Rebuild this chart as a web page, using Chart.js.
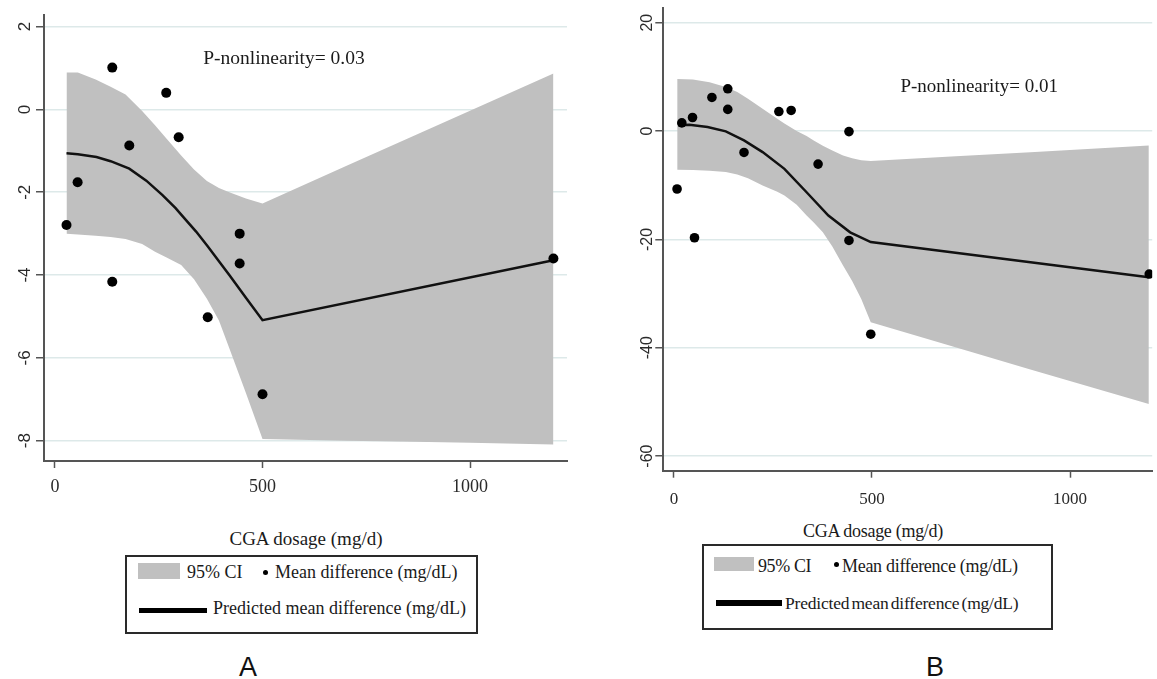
<!DOCTYPE html>
<html>
<head>
<meta charset="utf-8">
<script src="https://cdn.jsdelivr.net/npm/chart.js@4.4.1/dist/chart.umd.min.js"></script>
<style>
html,body{margin:0;padding:0;background:#fff;}
body{width:1157px;height:679px;position:relative;overflow:hidden;font-family:"Liberation Serif",serif;color:#1a1a1a;}
canvas{position:absolute;}
.t{position:absolute;white-space:nowrap;line-height:1;}
.c{position:absolute;white-space:nowrap;line-height:1;text-align:center;width:300px;}
.box{position:absolute;border:2px solid #2a2a2a;}
.sw{position:absolute;}
.dot{position:absolute;border-radius:50%;background:#000;}
.lab{position:absolute;white-space:nowrap;line-height:1;text-align:center;width:100px;font-family:"Liberation Sans",Arial,sans-serif;font-size:27px;color:#111;}
</style>
</head>
<body>
<canvas id="cA" width="580" height="520" style="left:0;top:0;width:580px;height:520px"></canvas>
<canvas id="cB" width="557" height="520" style="left:600px;top:0;width:557px;height:520px"></canvas>

<div class="c" style="left:156px;top:529px;font-size:19px">CGA dosage (mg/d)</div>
<div class="box" style="left:125px;top:555px;width:349px;height:75px"></div>
<div class="sw" style="left:138px;top:563px;width:42px;height:16px;background:#c0c0c0"></div>
<div class="t" style="left:187px;top:563px;font-size:18px">95% CI</div>
<div class="dot" style="left:262.5px;top:569.5px;width:5px;height:5px"></div>
<div class="t" style="left:275px;top:563px;font-size:18px">Mean difference (mg/dL)</div>
<div class="sw" style="left:139px;top:608px;width:68px;height:4.5px;background:#000"></div>
<div class="t" style="left:213px;top:599px;font-size:18px">Predicted mean difference (mg/dL)</div>

<div class="c" style="left:723px;top:522px;font-size:18px;letter-spacing:-0.3px">CGA dosage (mg/d)</div>
<div class="box" style="left:702px;top:544px;width:347px;height:82px"></div>
<div class="sw" style="left:714px;top:557px;width:40px;height:14px;background:#c0c0c0"></div>
<div class="t" style="left:758px;top:557px;font-size:18px;letter-spacing:-0.4px">95% CI</div>
<div class="dot" style="left:834px;top:561.5px;width:5px;height:5px"></div>
<div class="t" style="left:842px;top:557px;font-size:18px;letter-spacing:-0.3px">Mean difference (mg/dL)</div>
<div class="sw" style="left:716px;top:600px;width:66px;height:6px;background:#000"></div>
<div class="t" style="left:785px;top:595px;font-size:17.5px;letter-spacing:-0.2px;word-spacing:-2px">Predicted mean difference (mg/dL)</div>

<div class="lab" style="left:198px;top:654px">A</div>
<div class="lab" style="left:885px;top:654px">B</div>

<script>
// ---------- Panel A data ----------
const aPointsX = [27.7, 54.5, 138, 138, 179, 268, 298, 368, 445, 445, 500, 1201];
const aPointsY = [-2.79, -1.76, 1.01, -4.16, -0.87, 0.40, -0.67, -5.02, -3.0, -3.72, -6.88, -3.6];
const aFitX = [27.7, 55, 100, 134, 179, 220, 259, 290, 312, 340, 366, 400, 420, 460, 500, 1201];
const aFitY = [-1.06, -1.08, -1.15, -1.25, -1.43, -1.72, -2.07, -2.38, -2.63, -2.95, -3.28, -3.73, -4.0, -4.55, -5.09, -3.64];
const aCiX = [27.7, 55, 98, 134, 170, 210, 241, 270, 304, 335, 366, 395, 420, 460, 500, 700, 900, 1000, 1201];
const aCiUpper = [0.89, 0.89, 0.72, 0.55, 0.36, -0.04, -0.38, -0.72, -1.11, -1.45, -1.73, -1.90, -2.0, -2.15, -2.27, -1.37, -0.48, -0.03, 0.87];
const aCiLower = [-3.0, -3.02, -3.05, -3.08, -3.13, -3.25, -3.44, -3.58, -3.76, -4.1, -4.57, -5.1, -5.77, -6.85, -7.96, -8.0, -8.03, -8.05, -8.09];
const aXTicks = [0, 500, 1000];
const aYTicks = [-8, -6, -4, -2, 0, 2];
const aNote = 'P-nonlinearity= 0.03';

// ---------- Panel B data ----------
const bPointsX = [8, 20, 47, 52, 96, 136, 136, 177, 265, 296, 364, 442, 442, 497, 1200];
const bPointsY = [-10.7, 1.5, 2.5, -19.7, 6.2, 7.8, 4.0, -3.95, 3.6, 3.8, -6.1, -0.1, -20.2, -37.5, -26.4];
const bFitX = [11, 39, 85, 131, 177, 224, 279, 335, 390, 445, 497, 1199];
const bFitY = [1.05, 1.17, 0.74, -0.06, -1.73, -3.88, -6.97, -11.3, -15.6, -18.7, -20.5, -27.0];
const bCiX = [8.3, 48, 90, 131, 160, 187, 224, 261, 279, 310, 335, 353, 376, 400, 427, 450, 473, 497, 700, 900, 1199];
const bCiUpper = [9.6, 9.5, 9.0, 8.14, 7.2, 5.98, 4.1, 2.28, 1.4, 0.0, -0.9, -1.73, -2.7, -3.6, -4.5, -5.0, -5.4, -5.55, -4.7, -3.9, -2.65];
const bCiLower = [-7.15, -7.2, -7.35, -7.58, -8.0, -8.7, -10.05, -11.2, -11.9, -13.6, -15.6, -16.9, -18.7, -21.3, -24.8, -27.7, -31.0, -35.3, -39.7, -44.0, -50.4];
const bXTicks = [0, 500, 1000];
const bYTicks = [-60, -40, -20, 0, 20];
const bNote = 'P-nonlinearity= 0.01';

// ---------- helpers ----------
const zip = (xs, ys) => xs.map((x, i) => ({x: x, y: ys[i]}));

const notePlugin = {
  id: 'note',
  afterDatasetsDraw(chart, args, opts) {
    if (!opts || !opts.text) return;
    const {ctx, scales} = chart;
    ctx.save();
    ctx.font = opts.font;
    ctx.fillStyle = '#1a1a1a';
    ctx.textAlign = 'left';
    ctx.textBaseline = 'alphabetic';
    ctx.fillText(opts.text, scales.x.getPixelForValue(opts.x), scales.y.getPixelForValue(opts.y));
    ctx.restore();
  }
};

function makeChart(id, cfg) {
  const datasets = [
    {type: 'scatter', data: zip(cfg.px, cfg.py), pointRadius: cfg.dotR, pointBackgroundColor: '#000',
     pointBorderWidth: 0, borderWidth: 0, pointHoverRadius: cfg.dotR},
    {type: 'line', data: zip(cfg.fx, cfg.fy), borderColor: '#111', borderWidth: 2.5, pointRadius: 0,
     tension: 0, fill: false},
    {type: 'line', data: zip(cfg.cx, cfg.cu), borderWidth: 0, borderColor: 'rgba(0,0,0,0)', pointRadius: 0,
     tension: 0, fill: false},
    {type: 'line', data: zip(cfg.cx, cfg.cl), borderWidth: 0, borderColor: 'rgba(0,0,0,0)', pointRadius: 0,
     tension: 0, fill: '-1', backgroundColor: '#c0c0c0'}
  ];
  return new Chart(document.getElementById(id), {
    type: 'scatter',
    data: {datasets: datasets},
    plugins: [notePlugin],
    options: {
      responsive: false,
      animation: false,
      devicePixelRatio: 1,
      events: [],
      layout: {padding: cfg.pad},
      plugins: {
        legend: {display: false},
        tooltip: {enabled: false},
        note: {text: cfg.note, x: cfg.noteX, y: cfg.noteY, font: cfg.noteFont}
      },
      scales: {
        x: {
          type: 'linear', position: 'bottom', min: cfg.xmin, max: cfg.xmax,
          afterBuildTicks: s => { s.ticks = cfg.xt.map(v => ({value: v})); },
          afterFit: s => { s.height = cfg.xH; s.paddingLeft = 0; s.paddingRight = 0; },
          ticks: {callback: v => String(v), maxRotation: 0, minRotation: 0, autoSkip: false,
                  padding: cfg.xPad, color: '#2a2a2a',
                  font: {family: 'Liberation Serif', size: cfg.xFont}},
          grid: {drawOnChartArea: false, drawTicks: true, tickLength: 7, tickColor: '#555', tickWidth: 1.5},
          border: {color: '#555', width: 2}
        },
        y: {
          type: 'linear', position: 'left', min: cfg.ymin, max: cfg.ymax,
          afterBuildTicks: s => { s.ticks = cfg.yt.map(v => ({value: v})); },
          afterFit: s => { s.width = cfg.yW; s.paddingTop = 0; s.paddingBottom = 0; },
          ticks: {callback: v => String(v), minRotation: 90, maxRotation: 90, crossAlign: 'center',
                  autoSkip: false, padding: cfg.yPad, color: '#2a2a2a',
                  font: {family: 'Liberation Sans', size: cfg.yFont}},
          grid: {color: '#dde9e9', lineWidth: 1.5, drawTicks: true, tickLength: 8, tickColor: '#555', tickWidth: 1.5},
          border: {color: '#555', width: 2}
        }
      }
    }
  });
}

makeChart('cA', {
  px: aPointsX, py: aPointsY, fx: aFitX, fy: aFitY, cx: aCiX, cu: aCiUpper, cl: aCiLower,
  xt: aXTicks, yt: aYTicks, note: aNote, noteX: 357, noteY: 1.1, noteFont: '19.5px "Liberation Serif"',
  xmin: -26.5, xmax: 1233.7, ymin: -8.49, ymax: 2.28,
  pad: {top: 15, right: 13, left: 0, bottom: 0}, xH: 59, yW: 44,
  xPad: 8, yPad: 3, xFont: 18, yFont: 17, dotR: 5
});

makeChart('cB', {
  px: bPointsX, py: bPointsY, fx: bFitX, fy: bFitY, cx: bCiX, cu: bCiUpper, cl: bCiLower,
  xt: bXTicks, yt: bYTicks, note: bNote, noteX: 572, noteY: 7.2, noteFont: '19px "Liberation Serif"',
  xmin: -26.75, xmax: 1207.5, ymin: -62.7, ymax: 22.66,
  pad: {top: 8.3, right: 0, left: 0, bottom: 0}, xH: 49.3, yW: 63.3,
  xPad: 12, yPad: -4, xFont: 17, yFont: 16, dotR: 4.8
});
</script>
</body>
</html>
